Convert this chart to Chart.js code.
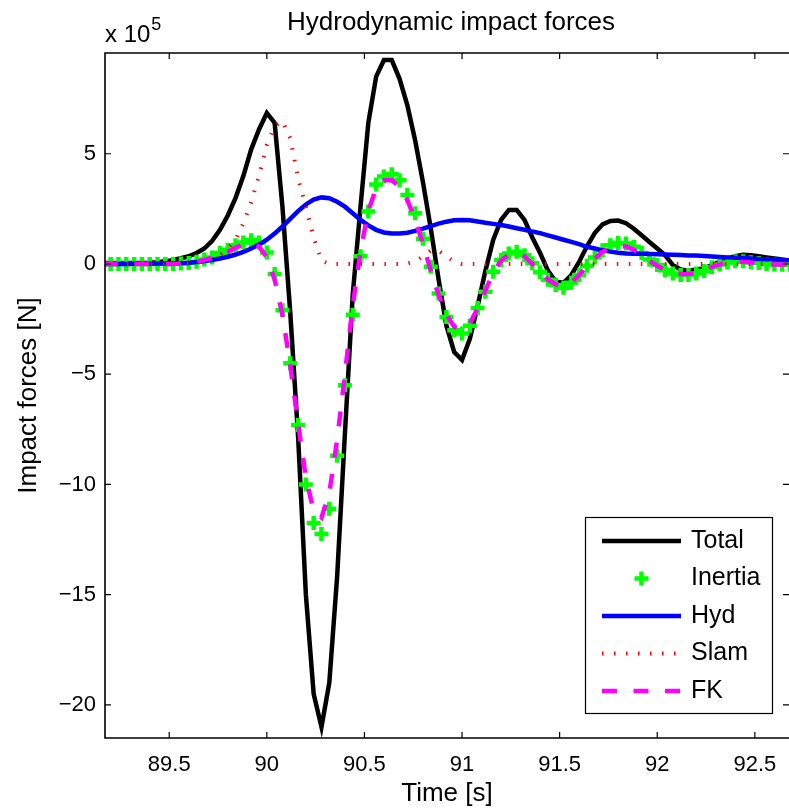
<!DOCTYPE html>
<html>
<head>
<meta charset="utf-8">
<title>Hydrodynamic impact forces</title>
<script src="https://cdn.jsdelivr.net/npm/chart.js@4"></script>
<style>
  html, body { margin: 0; padding: 0; background: #fff; overflow: hidden; }
  canvas { display: block; }
</style>
</head>
<body>
<canvas id="forceChart" width="789" height="809"></canvas>
<script>
// time samples [s], one every 0.04 s
const times = [
  89.16, 89.20, 89.24, 89.28, 89.32, 89.36, 89.40, 89.44, 89.48, 89.52,
  89.56, 89.60, 89.64, 89.68, 89.72, 89.76, 89.80, 89.84, 89.88, 89.92,
  89.96, 90.00, 90.04, 90.08, 90.12, 90.16, 90.20, 90.24, 90.28, 90.32,
  90.36, 90.40, 90.44, 90.48, 90.52, 90.56, 90.60, 90.64, 90.68, 90.72,
  90.76, 90.80, 90.84, 90.88, 90.92, 90.96, 91.00, 91.04, 91.08, 91.12,
  91.16, 91.20, 91.24, 91.28, 91.32, 91.36, 91.40, 91.44, 91.48, 91.52,
  91.56, 91.60, 91.64, 91.68, 91.72, 91.76, 91.80, 91.84, 91.88, 91.92,
  91.96, 92.00, 92.04, 92.08, 92.12, 92.16, 92.20, 92.24, 92.28, 92.32,
  92.36, 92.40, 92.44, 92.48, 92.52, 92.56, 92.60, 92.64, 92.68
];

// forces in units of 1e5 N
const total = [
  0.05, 0.05, 0.05, 0.05, 0.05, 0.05, 0.06, 0.08, 0.12, 0.18,
  0.26, 0.35, 0.5, 0.7, 1.05, 1.55, 2.2, 3.0, 4.0, 5.2,
  6.1, 6.85, 6.4, 2.6, -2.2, -7.8, -15.0, -19.5, -21.0, -19.0,
  -14.2, -7.7, -1.4, 2.6, 6.4, 8.5, 9.25, 9.25, 8.4, 7.2,
  5.6, 3.7, 1.6, -0.7, -2.8, -4.0, -4.35, -3.4, -1.9, -0.3,
  1.1, 2.0, 2.45, 2.45, 2.0, 1.2, 0.5, -0.3, -0.8, -0.85,
  -0.5, 0.1, 0.8, 1.4, 1.8, 1.95, 1.97, 1.85, 1.6, 1.3,
  1.0, 0.7, 0.4, -0.05, -0.25, -0.3, -0.25, -0.2, -0.05, 0.1,
  0.25, 0.35, 0.42, 0.4, 0.35, 0.3, 0.25, 0.2, 0.15
];

const inertia = [
  0, 0, 0, 0, 0, 0, 0, 0, 0, 0,
  0.02, 0.05, 0.1, 0.2, 0.3, 0.5, 0.65, 0.85, 0.98, 1.08,
  0.98, 0.52, -0.45, -2.1, -4.5, -7.3, -10.0, -11.75, -12.25, -11.1,
  -8.7, -5.5, -2.3, 0.35, 2.38, 3.6, 3.97, 4.07, 3.8, 3.13,
  2.3, 1.15, -0.12, -1.34, -2.4, -3.0, -3.15, -2.8, -2.0, -1.26,
  -0.35, 0.18, 0.48, 0.56, 0.4, 0.03, -0.38, -0.72, -0.95, -1.08,
  -0.85, -0.5, -0.08, 0.3, 0.62, 0.85, 0.95, 0.93, 0.78, 0.5,
  0.2, -0.05, -0.28, -0.43, -0.5, -0.5, -0.43, -0.32, -0.15, -0.02,
  0.07, 0.12, 0.12, 0.08, 0.04, 0.0, -0.02, -0.03, -0.03
];

const hyd = [
  0, 0, 0, 0, 0.01, 0.01, 0.01, 0.02, 0.02, 0.03,
  0.04, 0.06, 0.09, 0.13, 0.18, 0.25, 0.33, 0.43, 0.55, 0.7,
  0.88, 1.1, 1.38, 1.7, 2.05, 2.4, 2.7, 2.92, 3.02, 2.98,
  2.82, 2.6, 2.3, 2.0, 1.75, 1.55, 1.43, 1.38, 1.38, 1.42,
  1.5, 1.6, 1.72, 1.83, 1.92, 1.98, 2.0, 1.98, 1.93, 1.87,
  1.82, 1.77, 1.7, 1.62, 1.55, 1.47, 1.4, 1.3, 1.2, 1.1,
  1.0, 0.9, 0.78, 0.7, 0.62, 0.56, 0.51, 0.48, 0.47, 0.46,
  0.45, 0.44, 0.43, 0.42, 0.41, 0.39, 0.38, 0.36, 0.34, 0.32,
  0.3, 0.28, 0.27, 0.25, 0.23, 0.21, 0.2, 0.18, 0.17
];

const slam = [
  0, 0, 0, 0, 0, 0, 0, 0, 0, 0,
  0, 0.02, 0.05, 0.1, 0.2, 0.4, 0.7, 1.1, 1.85, 2.8,
  4.0, 5.4, 6.25, 6.5, 5.7, 3.9, 2.6, 1.2, 0.15, 0,
  0, 0, 0, 0, 0, 0, 0, 0, 0, 0.02,
  0.12, 0.35, 0.62, 0.6, 0.35, 0.1, 0, 0, 0, 0,
  0, 0, 0, 0, 0, 0, 0, 0, 0, 0,
  0, 0, 0, 0, 0, 0, 0, 0, 0, 0,
  0, 0, 0, 0, 0, 0, 0, 0, 0, 0,
  0, 0, 0, 0, 0, 0, 0, 0, 0
];

const fk = [
  0, 0, 0, 0, 0, 0, 0, 0, 0, 0,
  0.02, 0.05, 0.1, 0.18, 0.28, 0.42, 0.56, 0.74, 0.88, 0.95,
  0.8, 0.3, -0.7, -2.3, -4.6, -7.2, -9.7, -11.2, -11.5, -10.4,
  -8.0, -5.0, -1.9, 0.6, 2.4, 3.45, 3.8, 3.8, 3.5, 2.9,
  2.0, 0.9, -0.3, -1.4, -2.3, -2.85, -3.0, -2.7, -2.0, -1.2,
  -0.4, 0.15, 0.45, 0.5, 0.35, 0.0, -0.35, -0.7, -0.92, -1.0,
  -0.85, -0.5, -0.1, 0.25, 0.55, 0.75, 0.82, 0.8, 0.65, 0.4,
  0.15, -0.08, -0.28, -0.4, -0.45, -0.45, -0.38, -0.27, -0.13, -0.02,
  0.06, 0.1, 0.1, 0.07, 0.03, 0.0, -0.02, -0.02, -0.02
];

const xTickValues = [89.5, 90, 90.5, 91, 91.5, 92, 92.5];
const yTickValues = [-20, -15, -10, -5, 0, 5];

const FONT = '"Liberation Sans", Arial, Helvetica, sans-serif';

function toPoints(values) {
  return times.map((t, i) => ({ x: t, y: values[i] }));
}

function tickLabel(v) {
  const s = String(Math.round(Math.abs(v) * 10) / 10);
  return v < 0 ? "\u2212" + s : s;
}

// MATLAB style box: inward ticks on every side, framed legend, exponent note
const matlabFrame = {
  id: "matlabFrame",
  afterDraw(chart) {
    const { ctx, chartArea: a } = chart;
    const xs = chart.scales.x;
    const ys = chart.scales.y;
    ctx.save();

    ctx.strokeStyle = "#000";
    ctx.lineWidth = 1.6;
    ctx.beginPath();
    ctx.moveTo(a.right + 2, a.top);
    ctx.lineTo(a.left, a.top);
    ctx.lineTo(a.left, a.bottom);
    ctx.lineTo(a.right + 2, a.bottom);
    ctx.stroke();

    const tl = 6;
    ctx.lineWidth = 1.2;
    ctx.beginPath();
    xs.ticks.forEach((t) => {
      const px = xs.getPixelForValue(t.value);
      ctx.moveTo(px, a.bottom);
      ctx.lineTo(px, a.bottom - tl);
      ctx.moveTo(px, a.top);
      ctx.lineTo(px, a.top + tl);
    });
    ys.ticks.forEach((t) => {
      const py = ys.getPixelForValue(t.value);
      ctx.moveTo(a.left, py);
      ctx.lineTo(a.left + tl, py);
      ctx.moveTo(a.right, py);
      ctx.lineTo(a.right - tl, py);
    });
    ctx.stroke();

    ctx.fillStyle = "#000";
    ctx.font = `22px ${FONT}`;
    ctx.textBaseline = "middle";
    ctx.textAlign = "center";
    xs.ticks.forEach((t) => {
      ctx.fillText(tickLabel(t.value), xs.getPixelForValue(t.value), a.bottom + 27);
    });
    ctx.textAlign = "right";
    ys.ticks.forEach((t) => {
      ctx.fillText(tickLabel(t.value), a.left - 9, ys.getPixelForValue(t.value));
    });

    ctx.font = `26px ${FONT}`;
    ctx.textAlign = "center";
    ctx.fillText("Time [s]", (a.left + a.right) / 2, 794);
    ctx.save();
    ctx.translate(29, (a.top + a.bottom) / 2);
    ctx.rotate(-Math.PI / 2);
    ctx.fillText("Impact forces [N]", 0, 0);
    ctx.restore();

    ctx.font = `26px ${FONT}`;
    ctx.fillText("Hydrodynamic impact forces", 451, 23);

    ctx.textAlign = "left";
    ctx.textBaseline = "alphabetic";
    ctx.font = `24px ${FONT}`;
    ctx.fillText("x 10", a.left, 42);
    const w = ctx.measureText("x 10").width;
    ctx.font = `18px ${FONT}`;
    ctx.fillText("5", a.left + w + 1, 30);

    // legend
    const lx = a.right - 204, ly = a.bottom - 221, lw = 187, lh = 196;
    ctx.fillStyle = "#fff";
    ctx.fillRect(lx, ly, lw, lh);
    ctx.strokeStyle = "#000";
    ctx.lineWidth = 1.2;
    ctx.strokeRect(lx + 0.5, ly + 0.5, lw, lh);

    chart.data.datasets.forEach((ds, i) => {
      const cy = ly + 24 + i * 37.5;
      const x0 = lx + 17, x1 = lx + 96;
      ctx.save();
      if (ds.showLine === false) {
        const cx = (x0 + x1) / 2, r = ds.pointRadius;
        ctx.strokeStyle = ds.pointBorderColor;
        ctx.lineWidth = ds.pointBorderWidth;
        ctx.beginPath();
        ctx.moveTo(cx - r, cy);
        ctx.lineTo(cx + r, cy);
        ctx.moveTo(cx, cy - r);
        ctx.lineTo(cx, cy + r);
        ctx.stroke();
      } else {
        ctx.strokeStyle = ds.borderColor;
        ctx.lineWidth = ds.borderWidth;
        ctx.setLineDash(ds.borderDash || []);
        ctx.beginPath();
        ctx.moveTo(x0, cy);
        ctx.lineTo(x1, cy);
        ctx.stroke();
      }
      ctx.restore();
      ctx.fillStyle = "#000";
      ctx.font = `25px ${FONT}`;
      ctx.textAlign = "left";
      ctx.textBaseline = "middle";
      ctx.fillText(ds.label, lx + 106, cy);
    });

    ctx.restore();
  },
};

const lineDefaults = { pointRadius: 0, fill: false, tension: 0, clip: 0 };

new Chart(document.getElementById("forceChart").getContext("2d"), {
  type: "line",
  data: {
    datasets: [
      { ...lineDefaults, label: "Total", data: toPoints(total),
        borderColor: "#000000", borderWidth: 4.5, order: 5 },
      { label: "Inertia", data: toPoints(inertia), showLine: false, clip: 0,
        pointStyle: "cross", pointRadius: 7, pointBorderWidth: 4.5,
        pointBorderColor: "#00ff00", borderColor: "#00ff00", order: 4 },
      { ...lineDefaults, label: "Hyd", data: toPoints(hyd),
        borderColor: "#0000ff", borderWidth: 4.5, order: 3 },
      { ...lineDefaults, label: "Slam", data: toPoints(slam),
        borderColor: "#ff0000", borderWidth: 4, borderDash: [1.5, 10.5],
        borderCapStyle: "butt", order: 2 },
      { ...lineDefaults, label: "FK", data: toPoints(fk),
        borderColor: "#ff00ff", borderWidth: 4.5, borderDash: [15, 16.5],
        borderCapStyle: "butt", order: 1 },
    ],
  },
  options: {
    responsive: false,
    animation: false,
    events: [],
    layout: {
      autoPadding: false,
      padding: { top: 53, left: 105, right: 0, bottom: 71 },
    },
    scales: {
      x: {
        type: "linear",
        min: 89.171,
        max: 92.675,
        afterBuildTicks: (scale) => {
          scale.ticks = xTickValues.map((v) => ({ value: v }));
        },
        afterFit: (scale) => { scale.height = 0; },
        ticks: { display: false },
        grid: { display: false, drawTicks: false },
        border: { display: false },
      },
      y: {
        type: "linear",
        min: -21.5,
        max: 9.57,
        afterBuildTicks: (scale) => {
          scale.ticks = yTickValues.map((v) => ({ value: v }));
        },
        afterFit: (scale) => { scale.width = 0; },
        ticks: { display: false },
        grid: { display: false, drawTicks: false },
        border: { display: false },
      },
    },
    plugins: {
      legend: { display: false },
      tooltip: { enabled: false },
    },
  },
  plugins: [matlabFrame],
});
</script>
</body>
</html>
